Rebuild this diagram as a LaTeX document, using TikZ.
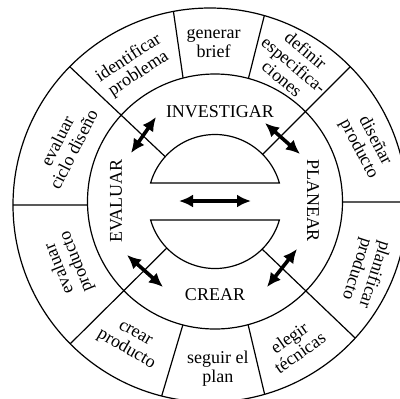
\documentclass[tikz,border=0pt]{standalone}
\usepackage{fontspec}
\setmainfont{Liberation Serif}
\usetikzlibrary{arrows.meta,calc}

\begin{document}
\begin{tikzpicture}[x=0.5pt, y=0.5pt, line width=0.6pt,
    seg/.style={align=center, inner sep=0pt, font=\fontsize{9}{9.2}\selectfont},
    phase/.style={inner sep=0pt, font=\fontsize{9}{9}\selectfont},
    dbl/.style={{Latex[length=7pt,width=6.5pt]}-{Latex[length=7pt,width=6.5pt]}, line width=1.8pt}]
  \useasboundingbox (-215,-196.5) rectangle (185,201.5);
  \clip (-215,-196.5) rectangle (185,201.5);
  \coordinate (c) at (0,0);
  \coordinate (oc) at (-5,-3.5);

  % rings
  \draw (oc) circle [radius=197];
  \draw (c) circle [radius=127.5];
  \draw (c) ++(16:67) arc [start angle=16, end angle=164, radius=67] -- cycle;
  \draw (c) ++(-16:67) arc [start angle=-16, end angle=-164, radius=67] -- cycle;

  % long dividers
  \draw ($(c)+(138:67)$) -- ($(oc)+(135.4:197)$);
  \draw ($(c)+(44.7:67)$) -- ($(oc)+(44.6:197)$);
  \draw ($(c)+(224:67)$) -- ($(oc)+(224.8:197)$);
  \draw ($(c)+(-45.3:67)$) -- ($(oc)+(-42.5:197)$);
  % short dividers
  \draw ($(c)+(104.5:127.5)$) -- ($(oc)+(100.7:197)$);
  \draw ($(c)+(74.8:127.5)$) -- ($(oc)+(74:197)$);
  \draw ($(c)+(-0.2:127.5)$) -- ($(oc)+(0.9:197)$);
  \draw ($(c)+(-74.95:127.5)$) -- ($(oc)+(-73.9:197)$);
  \draw ($(c)+(-104.6:127.5)$) -- ($(oc)+(-104.2:197)$);
  \draw ($(c)+(181.6:127.5)$) -- ($(oc)+(180:197)$);

  % outer ring
  \node[seg] (gen) at (90.5:158) {generar\\brief};
  \node[seg, rotate=-40] (def) at (60:158) {definir\\especifica-\\ciones};
  \node[seg, rotate=-62] (dis) at (20.5:162) {diseñar\\producto};
  \node[seg, rotate=-108] (plf) at (-25:166) {planificar\\producto};
  \node[seg, rotate=35] (ele) at (-61:164) {elegir\\técnicas};
  \node[seg] (seg) at (-89:167) {seguir el\\plan};
  \node[seg, rotate=-30] (crp) at (-121:165) {crear\\producto};
  \node[seg, rotate=112] (evp) at (203.4:160) {evaluar\\producto};
  \node[seg, rotate=63] (evc) at (159.4:160) {evaluar\\ciclo diseño};
  \node[seg, rotate=33] (idp) at (121:158) {identificar\\problema};

  % inner ring
  \node[phase] (inv) at (5,90) {INVESTIGAR};
  \node[phase, rotate=-90] (pla) at (98,1) {PLANEAR};
  \node[phase] (cre) at (0,-93.5) {CREAR};
  \node[phase, rotate=90] (eva) at (-99,0.5) {EVALUAR};

  % arrows
  \coordinate (nw1) at (-84,48.5);
  \coordinate (nw2) at (-59,84.5);
  \coordinate (ne1) at (50,78.5);
  \coordinate (ne2) at (85,47.5);
  \coordinate (sw1) at (-88,-53.5);
  \coordinate (sw2) at (-52,-85.5);
  \coordinate (se1) at (52,-85.5);
  \coordinate (se2) at (82,-47.5);
  \coordinate (m1) at (-36,0.5);
  \coordinate (m2) at (36,0.5);
  \draw[dbl] (nw1) -- (nw2);
  \draw[dbl] (ne1) -- (ne2);
  \draw[dbl] (sw1) -- (sw2);
  \draw[dbl] (se1) -- (se2);
  \draw[dbl] (m1) -- (m2);
\end{tikzpicture}
\end{document}
